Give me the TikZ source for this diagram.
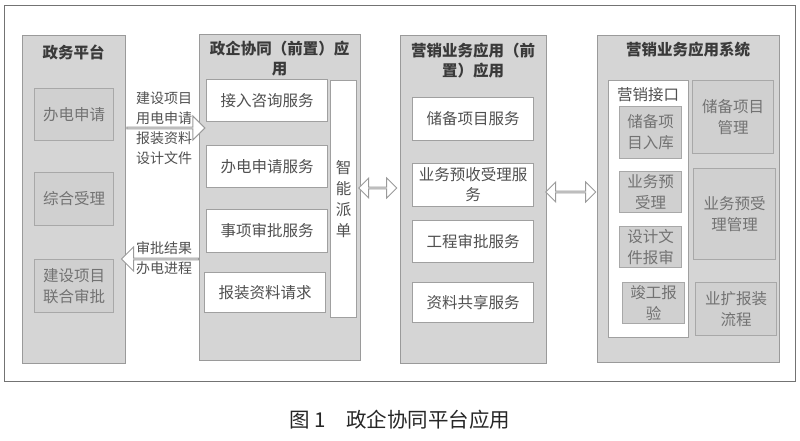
\documentclass[tikz,border=0pt]{standalone}
\usepackage{fontspec}
\setmainfont{Noto Sans CJK SC}
\usetikzlibrary{shapes.arrows}
\definecolor{panelfill}{HTML}{D5D5D5}
\definecolor{paneldraw}{HTML}{9A9A9A}
\definecolor{grayfill}{HTML}{D0D0D0}
\definecolor{graydraw}{HTML}{A8A8A8}
\definecolor{wdraw}{HTML}{A0A0A0}
\definecolor{txtdark}{HTML}{3A3A3A}
\definecolor{txtmid}{HTML}{505050}
\definecolor{txtlight}{HTML}{727272}
\tikzset{
  box/.style n args={4}{anchor=north west, at={(#1,#2)},
    minimum width={(#3-#1)*1pt}, minimum height={(#4-#2)*1pt}, inner sep=0pt},
  panel/.style={draw=paneldraw, fill=panelfill, line width=1.3pt},
  wbox/.style={draw=wdraw, fill=white, line width=1pt, text=txtmid, align=center,
    font=\fontsize{15.5}{20}\selectfont},
  gbox/.style={draw=graydraw, fill=grayfill, line width=1pt, text=txtlight, align=center,
    font=\fontsize{15.5}{21}\selectfont},
  ptitle/.style={text=txtdark, align=center, font=\bfseries\fontsize{15.5}{20}\selectfont},
  blockarrow/.style={single arrow, draw=paneldraw, fill=white, line width=1pt,
    minimum width=24pt, single arrow head extend=6.5pt, inner sep=0pt},
  dblarrow/.style={double arrow, draw=paneldraw, fill=white, line width=1pt,
    minimum width=20pt, double arrow head extend=5pt, inner sep=0pt},
  alabel/.style={text=txtmid, align=left, font=\fontsize{14}{20}\selectfont}
}
\begin{document}
\begin{tikzpicture}[x=1pt,y=-1pt]
\useasboundingbox (0,0) rectangle (800,441);
\node[draw=black!55, line width=0.8pt, box={4}{5}{795}{381}] (frame) {};

% Panel 1
\node[panel, box={22}{35}{125}{363}] (p1) {};
\node[ptitle] (t1) at (73.5,52) {政务平台};
\node[gbox, box={34}{88}{113}{140}] (b11) {办电申请};
\node[gbox, box={34}{172}{113}{225}] (b12) {综合受理};
\node[gbox, box={34}{259}{113}{312}] (b13) {建设项目\\联合审批};

% Panel 2
\node[panel, box={199}{34}{360}{360}] (p2) {};
\node[ptitle] (t2) at (279.5,59) {政企协同（前置）应\\用};
\node[wbox, box={206}{79}{327}{121}] (b21) {接入咨询服务};
\node[wbox, box={206}{145}{327}{187}] (b22) {办电申请服务};
\node[wbox, box={206}{209}{327}{252}] (b23) {事项审批服务};
\node[wbox, box={204}{272}{325}{312}] (b24) {报装资料请求};
\node[wbox, box={330}{80}{356}{317}, font=\fontsize{15.5}{21}\selectfont] (b25) {智\\能\\派\\单};

% Panel 3
\node[panel, box={400}{35}{546}{363}] (p3) {};
\node[ptitle] (t3) at (473,61) {营销业务应用（前\\置）应用};
\node[wbox, box={412}{97}{533}{140}] (b31) {储备项目服务};
\node[wbox, box={412}{163}{533}{206}] (b32) {业务预收受理服\\务};
\node[wbox, box={412}{220}{533}{262}] (b33) {工程审批服务};
\node[wbox, box={412}{282}{533}{322}] (b34) {资料共享服务};

% Panel 4
\node[panel, box={597}{35}{779}{362}] (p4) {};
\node[ptitle] (t4) at (688,50) {营销业务应用系统};
\node[wbox, box={608}{80}{688}{337}] (b40) {};
\node[text=txtmid, font=\fontsize{15.5}{20}\selectfont] (l40) at (648,95) {营销接口};
\node[gbox, box={619}{106}{681}{158}] (b41) {储备项\\目入库};
\node[gbox, box={619}{171}{681}{212}] (b42) {业务预\\受理};
\node[gbox, box={619}{226}{681}{267}] (b43) {设计文\\件报审};
\node[gbox, box={622}{282}{684}{323}] (b44) {竣工报\\验};
\node[gbox, box={692}{80}{773}{153}] (b45) {储备项目\\管理};
\node[gbox, box={693}{168}{775}{259}] (b46) {业务预受\\理管理};
\node[gbox, box={695}{282}{776}{335}] (b47) {业扩报装\\流程};

% Arrows
\node[blockarrow, minimum height=78pt, anchor=tail] (a1) at (p1.east |- 0,128) {};
\node[blockarrow, minimum height=77pt, shape border rotate=180, anchor=tail] (a2) at (p2.west |- 0,259) {};
\node[dblarrow, minimum height=38pt, anchor=west] (a3) at (358,188) {};
\node[dblarrow, minimum height=50pt, anchor=west] (a4) at (545,192) {};

\node[alabel] (la1) at (164,128) {建设项目\\用电申请\\报装资料\\设计文件};
\node[alabel] (la2) at (164,258) {审批结果\\办电进程};

% Caption
\node[text=black!85, font=\fontsize{20.5}{24}\selectfont] (cap) at (400,420) {图 1\quad 政企协同平台应用};
\end{tikzpicture}
\end{document}
